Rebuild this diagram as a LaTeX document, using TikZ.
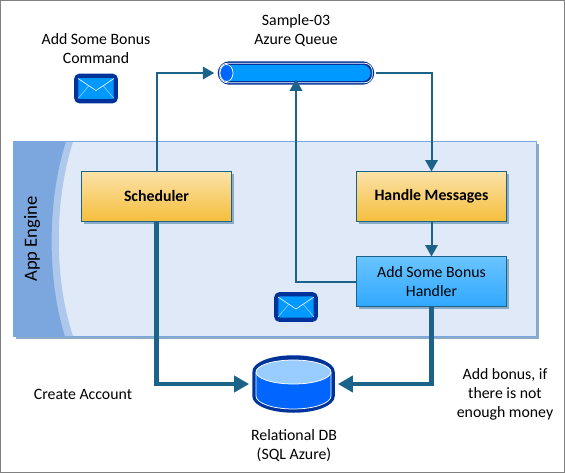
\documentclass[tikz,border=0pt]{standalone}
\usepackage{fontspec}
\setmainfont{Carlito}
\usetikzlibrary{arrows.meta, shadows}
\definecolor{linecol}{HTML}{1B6388}
\definecolor{navy}{HTML}{003399}
\definecolor{azure}{HTML}{0099FF}
\definecolor{royal}{HTML}{0066FF}
\definecolor{sky}{HTML}{99CCFF}
\definecolor{panelfill}{HTML}{DFE9F7}
\definecolor{banddark}{HTML}{7BA6DE}
\definecolor{bandlight}{HTML}{AEC8EC}
\definecolor{shadowcol}{HTML}{8AACC6}
\definecolor{yellowtop}{HTML}{FBE2A8}
\definecolor{yellowbottom}{HTML}{F5BE3C}
\definecolor{bluetop}{HTML}{6AC4FF}
\definecolor{bluebottom}{HTML}{30A8FF}
\tikzset{
  label/.style={align=center, font=\fontsize{9}{10.8}\selectfont},
  boxshadow/.style={drop shadow={shadow xshift=.055cm, shadow yshift=-.055cm, fill=shadowcol, opacity=1}},
  box/.style={label, draw=linecol, line width=.02cm, inner sep=0, outer sep=0,
    minimum width=3cm, minimum height=1cm, boxshadow},
  yellowbox/.style={box, top color=yellowtop, bottom color=yellowbottom, font=\fontsize{9}{10.8}\selectfont\bfseries},
  bluebox/.style={box, top color=bluetop, bottom color=bluebottom},
  thin line/.style={draw=linecol, line width=.04cm, -{Triangle[length=.23cm, width=.25cm]}},
  thick line/.style={draw=linecol, line width=.085cm, -{Triangle[length=.3cm, width=.32cm]}},
  mailbox/.style={draw=navy, fill=azure, line width=.085cm, rounded corners=.07cm,
    inner sep=0, minimum width=.79cm, minimum height=.51cm},
}
\begin{document}
\begin{tikzpicture}[x=.02cm, y=-.02cm]
\useasboundingbox (0,0) rectangle (565,473);
\draw[gray, line width=.03cm] (.5,.5) rectangle (564.5,472.5);

% app engine panel
\node[draw=banddark, fill=panelfill, line width=.02cm, inner sep=0, minimum width=10.47cm,
  minimum height=3.9cm, boxshadow] (panel) at (274.7,239) {};
\fill[bandlight] (13.5,142) -- (73,142) .. controls (54,200) and (54,280) .. (73,336) -- (13.5,336) -- cycle;
\fill[banddark] (13,141.5) -- (66,141.5) .. controls (47,200) and (47,280) .. (65,336.5) -- (13,336.5) -- cycle;
\node[label, rotate=90, font=\fontsize{10.6}{12}\selectfont] (engine) at (32,239) {App Engine};

% queue
\node[draw=navy, fill=azure, line width=.07cm, rounded corners=.2cm, inner sep=0,
  minimum width=3.06cm, minimum height=.4cm] (queue) at (296,73) {};
\draw[white, line width=.015cm, rounded corners=.15cm] ([shift={(2,2)}]queue.north west) rectangle ([shift={(-2,-2)}]queue.south east);
\draw[white, fill=royal, line width=.015cm] (226.5,73) ellipse[x radius=6.5, y radius=8.5];

% boxes
\node[yellowbox] (scheduler) at (156.5,196.5) {Scheduler};
\node[yellowbox] (handle) at (431.5,196.5) {Handle Messages};
\node[bluebox] (handler) at (431.5,281.5) {Add Some Bonus\\Handler};

% database
\node[inner sep=0, minimum width=1.76cm, minimum height=1.2cm] (db) at (293.5,384) {};
\draw[navy, fill=navy, line width=.07cm] (254,372) -- (254,396) arc[start angle=180, end angle=0, x radius=39.5, y radius=15] -- (333,372) arc[start angle=0, end angle=-180, x radius=39.5, y radius=15];
\draw[white, fill=royal, line width=.015cm] (256,372) -- (256,396) arc[start angle=180, end angle=0, x radius=37.5, y radius=13] -- (331,372);
\draw[white, fill=sky, line width=.015cm] (293.5,372) ellipse[x radius=37.5, y radius=12];

% mail icons
\foreach \x/\y in {96/88.5, 296/307}
{
    \node[mailbox] (mail\x) at (\x,\y) {};
    \draw[white, line width=.012cm] (\x-18,\y-10) -- (\x,\y+2) -- (\x+18,\y-10);
    \draw[sky, line width=.012cm] (\x-18,\y+10) -- (\x-7,\y-3) (\x+18,\y+10) -- (\x+7,\y-3);
}

% connectors
\draw[thin line] (scheduler.north) |- ([xshift=-2]queue.west);
\draw[thin line] (queue.east) ++(2,0) -| (handle.north);
\draw[thin line] (handle.south) -- (handler.north);
\draw[thin line] (handler.west) -| ([yshift=3]queue.south);
\draw[thick line] (scheduler.south) |- (db.west);
\draw[thick line] (handler.south) |- (db.east);

% texts
\node[label] (command) at (96,49) {Add Some Bonus\\Command};
\node[label] (queuetext) at (296,31) {Sample-03\\Azure Queue};
\node[label] (account) at (83,394) {Create Account};
\node[label] (dbtext) at (294,446) {Relational DB\\(SQL Azure)};
\node[label] (bonus) at (505,394) {Add bonus, if\\there is not\\enough money};
\end{tikzpicture}
\end{document}
